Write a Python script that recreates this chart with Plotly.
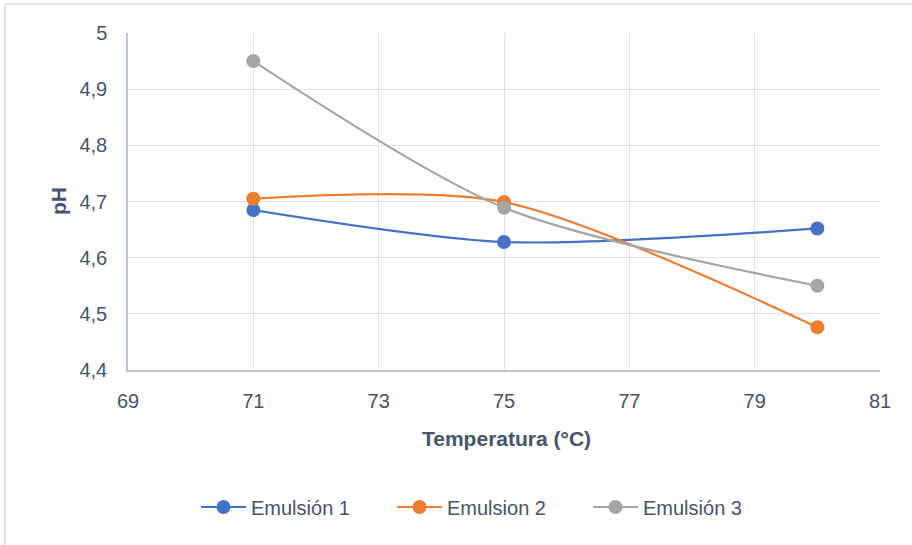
import plotly.graph_objects as go

# Temperatures (°C) and pH readings per emulsion
temperatura = [71, 75, 80]
emulsion_1 = [4.685, 4.628, 4.652]
emulsion_2 = [4.705, 4.699, 4.476]
emulsion_3 = [4.950, 4.689, 4.550]

series_names = ["Emulsión 1", "Emulsion 2", "Emulsión 3"]
series_colors = ["#4472C4", "#ED7D31", "#A5A5A5"]

x_ticks = [69, 71, 73, 75, 77, 79, 81]
y_ticks = [4.4, 4.5, 4.6, 4.7, 4.8, 4.9, 5.0]
y_tick_text = ["4,4", "4,5", "4,6", "4,7", "4,8", "4,9", "5"]

FONT = "Liberation Sans"
TEXT_COLOR = "#44546A"
GRID = "#DDE2E8"
AXIS_LINE = "#BCC5D3"

fig = go.Figure()
for name, values, color in zip(series_names, [emulsion_1, emulsion_2, emulsion_3], series_colors):
    fig.add_trace(go.Scatter(
        x=temperatura, y=values, name=name,
        mode="lines+markers",
        line=dict(color=color, width=2.2, shape="spline", smoothing=0.8),
        marker=dict(color=color, size=14),
    ))

# chart-area frame (top and left edges)
W, H = 912, 545
ml, mr, mt, mb = 128, 32, 33, 175
pw, ph = W - ml - mr, H - mt - mb


def px_x(p):
    return (p - ml) / pw


def px_y(p):
    return (H - mb - p) / ph


fig.add_shape(type="line", xref="paper", yref="paper",
              x0=px_x(5), x1=px_x(W + 5), y0=px_y(4), y1=px_y(4),
              line=dict(color="#D9DDE3", width=1.5))
fig.add_shape(type="line", xref="paper", yref="paper",
              x0=px_x(5), x1=px_x(5), y0=px_y(4), y1=px_y(H + 5),
              line=dict(color="#D9DDE3", width=1.5))

fig.add_annotation(text="<b>Temperatura (°C)</b>", xref="paper", yref="paper",
                   x=px_x(506), y=px_y(438), showarrow=False,
                   font=dict(family=FONT, size=21, color=TEXT_COLOR),
                   xanchor="center", yanchor="middle")
fig.add_annotation(text="<b>pH</b>", xref="paper", yref="paper",
                   x=px_x(58), y=px_y(201), showarrow=False, textangle=-90,
                   font=dict(family=FONT, size=21, color=TEXT_COLOR),
                   xanchor="center", yanchor="middle")

fig.update_layout(
    width=W, height=H,
    margin=dict(l=ml, r=mr, t=mt, b=mb),
    paper_bgcolor="white", plot_bgcolor="white",
    font=dict(family=FONT, size=20, color=TEXT_COLOR),
    showlegend=True,
    legend=dict(orientation="h", xanchor="center", yanchor="middle",
                x=px_x(490), y=px_y(507),
                font=dict(family=FONT, size=20, color=TEXT_COLOR),
                itemwidth=45,
                entrywidth=136, entrywidthmode="pixels",
                bgcolor="rgba(0,0,0,0)"),
)
fig.update_xaxes(range=[69, 81], tickvals=x_ticks, showgrid=True, gridcolor=GRID, gridwidth=1.4,
                 showline=True, linecolor=AXIS_LINE, linewidth=1.5, zeroline=False,
                 ticks="", ticklabelstandoff=12,
                 tickfont=dict(family=FONT, size=20, color=TEXT_COLOR))
fig.update_yaxes(range=[4.4, 5.0], tickvals=y_ticks, ticktext=y_tick_text,
                 showgrid=True, gridcolor=GRID, gridwidth=1.4,
                 showline=True, linecolor=AXIS_LINE, linewidth=1.5, zeroline=False,
                 ticks="", ticklabelstandoff=15,
                 tickfont=dict(family=FONT, size=20, color=TEXT_COLOR))

fig.write_html("out.html")
